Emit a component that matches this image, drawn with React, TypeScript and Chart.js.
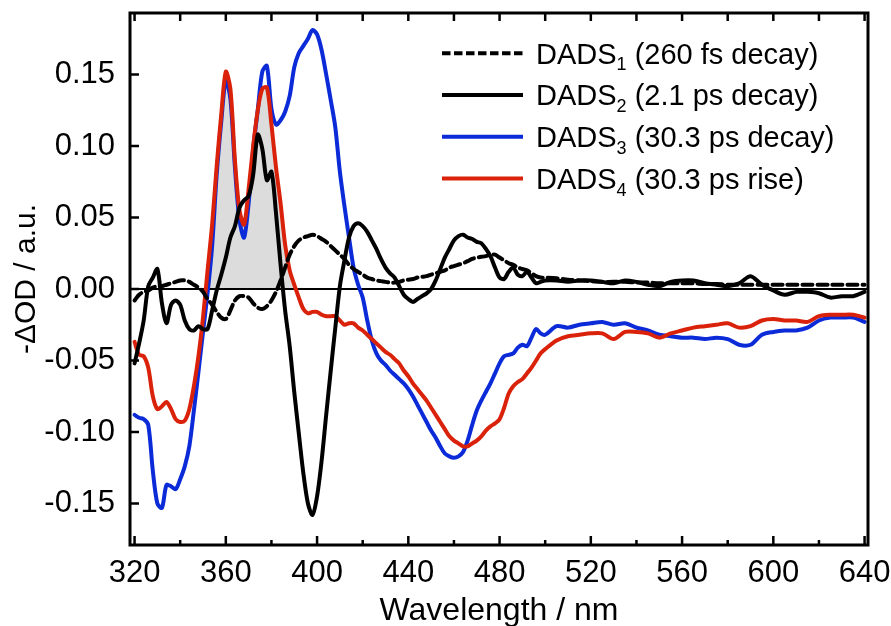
import React, { useEffect, useRef } from "react";
import { Chart, registerables } from "chart.js";

Chart.register(...registerables);

// ---------- data ----------
const wavelengths = [
  320, 322, 324, 326, 328, 330, 332, 334, 336, 338,
  340, 342, 344, 346, 348, 350, 352, 354, 356, 358,
  360, 362, 364, 366, 368, 370, 372, 374, 376, 378,
  380, 382, 384, 386, 388, 390, 392, 394, 396, 398,
  400, 402, 404, 406, 408, 410, 412, 414, 416, 418,
  420, 422, 424, 426, 428, 430, 432, 434, 436, 438,
  440, 442, 444, 446, 448, 450, 452, 454, 456, 458,
  460, 462, 464, 466, 468, 470, 472, 474, 476, 478,
  480, 482, 484, 486, 488, 490, 492, 494, 496, 498,
  500,
  505, 510, 515, 520, 525, 530, 535, 540, 545, 550,
  555, 560, 565, 570, 575, 580, 585, 590, 595, 600,
  605, 610, 615, 620, 625, 630, 635, 640,
];

// DADS1 (260 fs decay) - dashed black
const dads1 = [
  -0.008, -0.004, -0.002, -0.001, 0.001, 0.002, 0.002, 0.003, 0.004, 0.005,
  0.006, 0.006, 0.005, 0.003, 0.001, -0.002, -0.007, -0.011, -0.016, -0.02,
  -0.021, -0.015, -0.008, -0.005, -0.005, -0.006, -0.01, -0.013, -0.014, -0.012,
  -0.008, -0.002, 0.006, 0.015, 0.024, 0.03, 0.034, 0.036, 0.037, 0.038,
  0.037, 0.035, 0.033, 0.03, 0.027, 0.024, 0.021, 0.017, 0.014, 0.012,
  0.01, 0.008, 0.007, 0.006, 0.0055, 0.005, 0.0045, 0.0045, 0.005, 0.006,
  0.0065, 0.007, 0.008, 0.0085, 0.009, 0.01, 0.011, 0.012, 0.013, 0.015,
  0.016, 0.017, 0.018, 0.0195, 0.021, 0.022, 0.0225, 0.023, 0.024, 0.024,
  0.022, 0.02, 0.018, 0.017, 0.015, 0.014, 0.013, 0.011, 0.009, 0.008,
  0.008,
  0.0075, 0.0065, 0.006, 0.0055, 0.005, 0.005, 0.005, 0.0045, 0.0045, 0.004,
  0.004, 0.004, 0.004, 0.0035, 0.0035, 0.003, 0.003, 0.003, 0.003, 0.003,
  0.003, 0.003, 0.003, 0.003, 0.003, 0.003, 0.003, 0.003,
];

// DADS2 (2.1 ps decay) - solid black
const dads2 = [
  -0.052, -0.038, -0.022, 0.002, 0.008, 0.014, -0.01, -0.024, -0.011, -0.008,
  -0.011, -0.022, -0.028, -0.029, -0.026, -0.028, -0.028, -0.015, -0.001, 0.01,
  0.022, 0.036, 0.044, 0.057, 0.062, 0.065, 0.08, 0.108, 0.098, 0.076,
  0.082, 0.053, 0.017, -0.015, -0.04, -0.072, -0.101, -0.129, -0.15, -0.158,
  -0.145, -0.12, -0.088, -0.057, -0.027, 0.002, 0.02, 0.036, 0.044, 0.046,
  0.044, 0.04, 0.034, 0.028, 0.021, 0.015, 0.011, 0.008, 0.002, -0.004,
  -0.007, -0.009, -0.007, -0.005, -0.003, 0.0, 0.006, 0.014, 0.022, 0.028,
  0.034, 0.037, 0.038, 0.036, 0.035, 0.033, 0.032, 0.028, 0.023, 0.015,
  0.008, 0.007, 0.012, 0.015, 0.01, 0.009, 0.012, 0.008, 0.004, 0.005,
  0.006,
  0.006, 0.005, 0.006, 0.006, 0.005, 0.004, 0.006, 0.005, 0.003, 0.002,
  0.005, 0.006, 0.006, 0.004, 0.003, 0.002, 0.004, 0.009, 0.003, -0.001,
  -0.004, -0.002, -0.002, -0.003, -0.006, -0.005, -0.005, -0.002,
];

// DADS3 (30.3 ps decay) - blue
const dads3 = [
  -0.088, -0.09, -0.091, -0.095, -0.127, -0.15, -0.153, -0.137, -0.138, -0.14,
  -0.133, -0.124, -0.11, -0.085, -0.058, -0.03, -0.003, 0.03, 0.08, 0.117,
  0.146, 0.133, 0.085, 0.048, 0.036, 0.06, 0.098, 0.125, 0.152, 0.156,
  0.126, 0.115, 0.118, 0.124, 0.135, 0.155, 0.165, 0.17, 0.175, 0.181,
  0.178, 0.167, 0.15, 0.132, 0.113, 0.082, 0.058, 0.036, 0.015, 0.003,
  -0.006, -0.022, -0.036, -0.045, -0.05, -0.053, -0.057, -0.06, -0.063, -0.066,
  -0.07, -0.075, -0.081, -0.087, -0.093, -0.099, -0.104, -0.11, -0.115, -0.117,
  -0.118, -0.117, -0.114, -0.106, -0.095, -0.085, -0.078, -0.072, -0.066, -0.059,
  -0.052, -0.047, -0.046, -0.045, -0.041, -0.039, -0.04, -0.034, -0.028, -0.031,
  -0.032,
  -0.026, -0.027, -0.025, -0.024, -0.023, -0.025, -0.024, -0.027, -0.029, -0.032,
  -0.033, -0.034, -0.034, -0.035, -0.034, -0.035, -0.039, -0.039, -0.032, -0.03,
  -0.029, -0.029, -0.027, -0.022, -0.02, -0.02, -0.02, -0.023,
];

// DADS4 (30.3 ps rise) - red
const dads4 = [
  -0.037, -0.046, -0.047, -0.055, -0.075, -0.084, -0.082, -0.079, -0.084, -0.091,
  -0.093, -0.092, -0.084, -0.068, -0.047, -0.02, 0.013, 0.045, 0.086, 0.122,
  0.152, 0.14, 0.09, 0.055, 0.045, 0.07, 0.1, 0.125, 0.14, 0.141,
  0.115, 0.085, 0.06, 0.031, 0.013, 0.003, -0.006, -0.014, -0.017, -0.016,
  -0.016, -0.018, -0.019, -0.019, -0.019, -0.022, -0.025, -0.024, -0.024, -0.027,
  -0.029, -0.032, -0.035, -0.038, -0.041, -0.044, -0.046, -0.049, -0.052, -0.057,
  -0.061, -0.066, -0.07, -0.074, -0.078, -0.083, -0.088, -0.093, -0.098, -0.103,
  -0.106, -0.108, -0.11, -0.11, -0.108, -0.106, -0.103, -0.099, -0.096, -0.094,
  -0.091, -0.083, -0.073, -0.068, -0.065, -0.063, -0.059, -0.055, -0.05, -0.045,
  -0.042,
  -0.036, -0.033, -0.032, -0.031, -0.031, -0.035, -0.03, -0.03, -0.031, -0.034,
  -0.031, -0.029, -0.027, -0.026, -0.025, -0.024, -0.027, -0.026, -0.022, -0.021,
  -0.022, -0.022, -0.023, -0.019, -0.018, -0.018, -0.018, -0.02,
];

const legendNames = ["DADS", "DADS", "DADS", "DADS"];
const legendSubs = ["1", "2", "3", "4"];
const legendNotes = ["(260 fs decay)", "(2.1 ps decay)", "(30.3 ps decay)", "(30.3 ps rise)"];

const xMinorTicks = [340, 380, 420, 460, 500, 540, 580, 620];
const xTitle = "Wavelength / nm";
const yTitle = "-\u0394OD / a.u.";

// ---------- styles ----------
const BLUE = "#0b2ad8";
const RED = "#da220b";
const BLACK = "#000000";
const FILL = "#dcdcdc";
const FONT = "'Liberation Sans', Arial, sans-serif";
const DASH = [10, 5];
const LEGEND_DASH = [8.5, 3.5];

const framePlugin = {
  id: "framePlugin",
  beforeDatasetsDraw(chart: any) {
    const { ctx, chartArea, scales } = chart;
    const y0 = scales.y.getPixelForValue(0);
    ctx.save();
    ctx.strokeStyle = BLACK;
    ctx.lineWidth = 2;
    ctx.beginPath();
    ctx.moveTo(chartArea.left, y0);
    ctx.lineTo(chartArea.right, y0);
    ctx.stroke();
    ctx.restore();
  },
  afterDatasetsDraw(chart: any) {
    const { ctx, chartArea, scales } = chart;
    const { left, right, top, bottom } = chartArea;
    ctx.save();
    ctx.strokeStyle = BLACK;
    ctx.lineWidth = 3;
    ctx.lineCap = "butt";
    ctx.beginPath();
    ctx.rect(left, top, right - left, bottom - top);
    ctx.stroke();
    ctx.lineWidth = 2.5;
    ctx.beginPath();
    scales.y.ticks.forEach((t: any) => {
      const py = scales.y.getPixelForValue(t.value);
      ctx.moveTo(left, py);
      ctx.lineTo(left + 9, py);
    });
    scales.x.ticks.forEach((t: any) => {
      const px = scales.x.getPixelForValue(t.value);
      ctx.moveTo(px, bottom);
      ctx.lineTo(px, bottom - 9);
      ctx.moveTo(px, top);
      ctx.lineTo(px, top + 8);
    });
    xMinorTicks.forEach((v) => {
      const px = scales.x.getPixelForValue(v);
      ctx.moveTo(px, bottom);
      ctx.lineTo(px, bottom - 5);
      ctx.moveTo(px, top);
      ctx.lineTo(px, top + 8);
    });
    ctx.stroke();
    ctx.restore();
  },
  afterDraw(chart: any) {
    const { ctx } = chart;
    const colors = [BLACK, BLACK, BLUE, RED];
    ctx.save();
    for (let i = 0; i < 4; i++) {
      const y = 53.3 + i * 41.7;
      ctx.strokeStyle = colors[i];
      ctx.lineWidth = 4;
      ctx.setLineDash(i === 0 ? LEGEND_DASH : []);
      ctx.beginPath();
      ctx.moveTo(442, y);
      ctx.lineTo(523, y);
      ctx.stroke();
      ctx.setLineDash([]);
      const base = y + 10.4;
      let x = 536;
      ctx.fillStyle = BLACK;
      ctx.textBaseline = "alphabetic";
      ctx.textAlign = "left";
      ctx.font = `29px ${FONT}`;
      ctx.fillText(legendNames[i], x, base);
      x += ctx.measureText(legendNames[i]).width;
      ctx.font = `18px ${FONT}`;
      ctx.fillText(legendSubs[i], x, base + 6.7);
      x += ctx.measureText(legendSubs[i]).width;
      ctx.font = `29px ${FONT}`;
      ctx.fillText(" " + legendNotes[i], x, base);
    }
    ctx.restore();
  },
};

export default function App() {
  const ref = useRef<HTMLCanvasElement>(null);

  useEffect(() => {
    const canvas = ref.current;
    if (!canvas) return;
    const mk = (vals: number[]) => wavelengths.map((x, i) => ({ x, y: vals[i] }));
    const chart = new Chart(canvas, {
      type: "line",
      data: {
        datasets: [
          {
            label: "DADS2 (2.1 ps decay)",
            data: mk(dads2),
            borderColor: BLACK,
            borderWidth: 4,
            order: 0,
            fill: false,
          },
          {
            label: "DADS1 (260 fs decay)",
            data: mk(dads1),
            borderColor: BLACK,
            borderWidth: 4,
            borderDash: DASH,
            order: 1,
            fill: false,
          },
          {
            label: "DADS4 (30.3 ps rise)",
            data: mk(dads4),
            borderColor: RED,
            borderWidth: 4,
            order: 2,
            fill: { target: "origin", above: FILL, below: "rgba(0,0,0,0)" },
          },
          {
            label: "DADS3 (30.3 ps decay)",
            data: mk(dads3),
            borderColor: BLUE,
            borderWidth: 4,
            order: 3,
            fill: false,
          },
        ],
      },
      options: {
        animation: false,
        responsive: false,
        devicePixelRatio: 1,
        layout: { padding: { top: 13, right: 23, left: 0, bottom: 0 } },
        elements: {
          point: { radius: 0 },
          line: { tension: 0.3, borderCapStyle: "round", borderJoinStyle: "round" },
        },
        plugins: {
          legend: { display: false },
          tooltip: { enabled: false },
          filler: { drawTime: "beforeDatasetsDraw" },
        } as any,
        scales: {
          x: {
            type: "linear",
            min: 318,
            max: 641.5,
            afterFit: (s: any) => {
              s.height = 81;
              s.paddingLeft = 0;
              s.paddingRight = 0;
            },
            grid: { display: false, drawTicks: false },
            border: { display: false },
            ticks: {
              includeBounds: false,
              stepSize: 40,
              padding: 10,
              color: BLACK,
              maxRotation: 0,
              autoSkip: false,
              font: { family: FONT, size: 31 },
            },
            title: {
              display: true,
              text: xTitle,
              color: BLACK,
              font: { family: FONT, size: 32 },
              padding: { top: 0, bottom: -4 },
            },
          },
          y: {
            type: "linear",
            min: -0.179,
            max: 0.193,
            afterFit: (s: any) => {
              s.width = 130;
              s.paddingTop = 0;
              s.paddingBottom = 0;
            },
            grid: { display: false, drawTicks: false },
            border: { display: false },
            ticks: {
              includeBounds: false,
              stepSize: 0.05,
              padding: 15,
              color: BLACK,
              font: { family: FONT, size: 31 },
              callback: (v: any) => {
                const n = Math.round(Number(v) * 100) / 100;
                return Math.abs(n) < 1e-9 ? "0.00" : n.toFixed(2);
              },
            },
            title: {
              display: true,
              text: yTitle,
              color: BLACK,
              font: { family: FONT, size: 30 },
              padding: { top: 9, bottom: 0 },
            },
          },
        },
      },
      plugins: [framePlugin],
    } as any);
    return () => chart.destroy();
  }, []);

  return (
    <div style={{ position: "fixed", left: 0, top: 0, width: 891, height: 626, background: "#fff" }}>
      <canvas ref={ref} width={891} height={626} style={{ display: "block" }} />
    </div>
  );
}
